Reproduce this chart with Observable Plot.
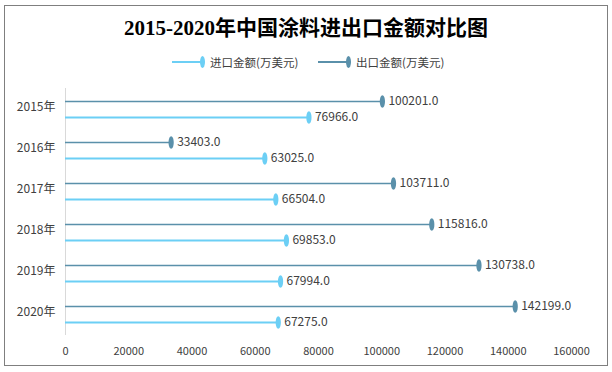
<!DOCTYPE html>
<html>
<head>
<meta charset="utf-8">
<script src="https://cdn.jsdelivr.net/npm/d3@7"></script>
<script src="https://cdn.jsdelivr.net/npm/@observablehq/plot@0.6"></script>
<style>
  body { margin: 0; background: #fff; font-family: "Noto Sans CJK SC", "Noto Sans", sans-serif; }
  #frame { position: absolute; left: 4px; top: 5px; width: 602px; height: 359px; border: 1px solid #7f7f7f; box-sizing: content-box; }
  #title { position: absolute; left: 0; top: 14px; width: 612px; text-align: center; font-family: "Liberation Serif", "Noto Sans CJK SC", serif; font-weight: bold; font-size: 21px; color: #000; line-height: 28px; }
  #legend { position: absolute; left: 0; top: 53px; width: 612px; height: 18px; font-size: 11.5px; color: #404040; }
  .li { position: absolute; top: 0; display: flex; align-items: center; height: 18px; }
  .li .ln { width: 30px; height: 0; border-top: 2px solid; }
  .li .mk { width: 5px; height: 12px; border-radius: 50%; margin-left: -2px; margin-right: 5px; }
  #chart { position: absolute; left: 0; top: 80px; }
</style>
</head>
<body>
<div id="frame"></div>
<div id="title">2015-2020年中国涂料进出口金额对比图</div>
<div id="legend"></div>
<div id="chart"></div>
<script>
const years = ["2015年", "2016年", "2017年", "2018年", "2019年", "2020年"];
const importVals = [76966, 63025, 66504, 69853, 67994, 67275];
const exportVals = [100201, 33403, 103711, 115816, 130738, 142199];
const xTicks = [0, 20000, 40000, 60000, 80000, 100000, 120000, 140000, 160000];
const seriesNames = ["进口金额(万美元)", "出口金额(万美元)"];
const colors = ["#6ccff5", "#5a90aa"];

// legend
const legend = document.getElementById("legend");
const legendLeft = [172, 318];
seriesNames.forEach((name, i) => {
  const d = document.createElement("div");
  d.className = "li";
  d.style.left = legendLeft[i] + "px";
  d.innerHTML = `<span class="ln" style="border-color:${colors[i]}"></span><span class="mk" style="background:${colors[i]}"></span><span>${name}</span>`;
  legend.appendChild(d);
});

const data = years.flatMap((y, i) => [
  {year: y, series: "export", value: exportVals[i]},
  {year: y, series: "import", value: importVals[i]}
]);
const exp = data.filter(d => d.series === "export");
const imp = data.filter(d => d.series === "import");

const k = 0.5523;
const ellipse = {
  draw(ctx) {
    const rx = 2.6, ry = 6.2;
    ctx.moveTo(rx, 0);
    ctx.bezierCurveTo(rx, ry * k, rx * k, ry, 0, ry);
    ctx.bezierCurveTo(-rx * k, ry, -rx, ry * k, -rx, 0);
    ctx.bezierCurveTo(-rx, -ry * k, -rx * k, -ry, 0, -ry);
    ctx.bezierCurveTo(rx * k, -ry, rx, -ry * k, rx, 0);
    ctx.closePath();
  }
};

const fmt = d => d.value.toFixed(1);

const chart = Plot.plot({
  width: 612,
  height: 290,
  marginLeft: 65,
  marginRight: 41,
  marginTop: 8,
  marginBottom: 35,
  style: {fontFamily: '"Noto Sans CJK SC", "Noto Sans", sans-serif', fontSize: "11px", color: "#404040", background: "transparent"},
  x: {domain: [0, 160000], ticks: xTicks, tickFormat: d => String(d)},
  y: {type: "point", domain: years, padding: 0.5},
  marks: [
    Plot.ruleX([0], {stroke: "#d9d9d9", strokeWidth: 1}),
    Plot.ruleY(exp, {y: "year", x1: 0, x2: "value", dy: -8, stroke: colors[1], strokeWidth: 1.6}),
    Plot.ruleY(imp, {y: "year", x1: 0, x2: "value", dy: 8, stroke: colors[0], strokeWidth: 1.8}),
    Plot.dot(exp, {y: "year", x: "value", dy: -8, symbol: ellipse, fill: colors[1], stroke: "none"}),
    Plot.dot(imp, {y: "year", x: "value", dy: 8, symbol: ellipse, fill: colors[0], stroke: "none"}),
    Plot.text(exp, {y: "year", x: "value", dy: -8, dx: 6, text: fmt, textAnchor: "start", fill: "#404040", fontSize: 12}),
    Plot.text(imp, {y: "year", x: "value", dy: 8, dx: 6, text: fmt, textAnchor: "start", fill: "#404040", fontSize: 12}),
    Plot.axisX({ticks: xTicks, tickSize: 0, tickPadding: 12, tickFormat: d => String(d), label: null, fill: "#404040"}),
    Plot.axisY({tickSize: 0, tickPadding: 10, label: null, fontSize: 12, dy: -2, fill: "#404040"})
  ]
});
document.getElementById("chart").appendChild(chart);
</script>
</body>
</html>
